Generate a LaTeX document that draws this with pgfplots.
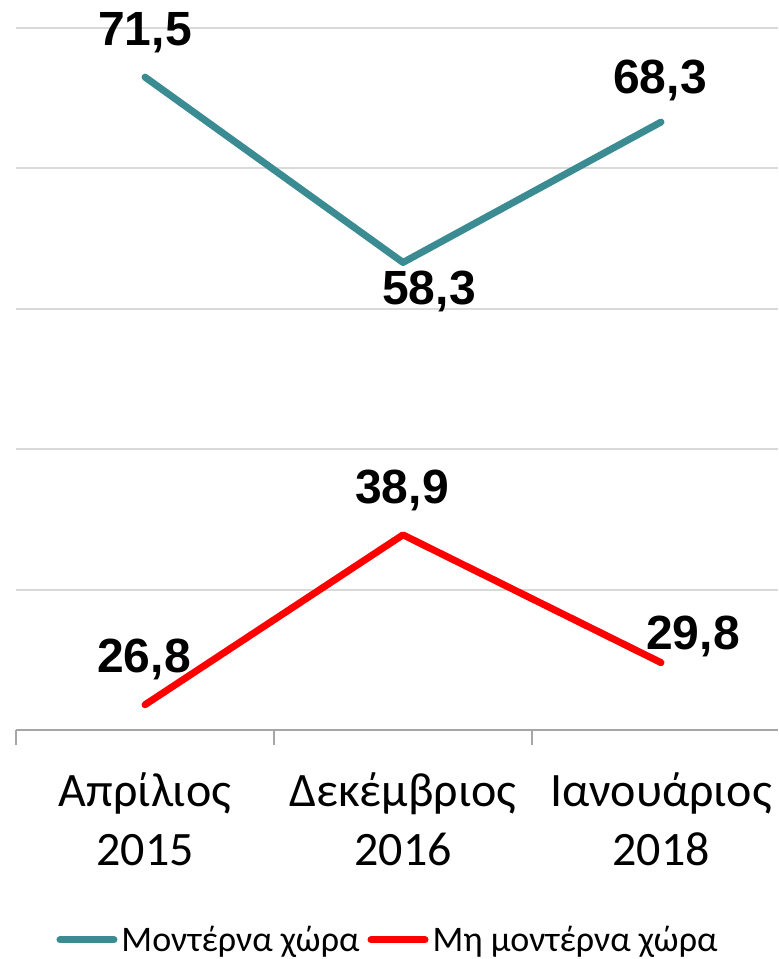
\documentclass[border=0pt]{standalone}
\usepackage{fontspec}
\setmainfont{Carlito}
\newfontfamily\lab{Liberation Sans}
\usepackage{pgfplots}
\pgfplotsset{compat=1.18}
\usepackage{pgfplotstable}
\definecolor{teal1}{RGB}{59,140,146}
\definecolor{grid1}{RGB}{217,217,217}
\definecolor{axis1}{RGB}{166,166,166}

\pgfplotstableread{
x y dx dy lbl
0 71.5 0 22 71,5
1 58.3 13 -14.5 58,3
2 68.3 -0.5 21 68,3
}\modern
\pgfplotstableread{
x y dx dy lbl
0 26.8 -0.5 22.5 26,8
1 38.9 -0.5 22 38,9
2 29.8 16 13 29,8
}\nonmodern

\begin{document}
\begin{tikzpicture}
\begin{axis}[
  scale only axis, width=381pt, height=351pt,
  xmin=-0.5, xmax=2.4535, ymin=25, ymax=75,
  axis x line=bottom, axis y line=left,
  x axis line style={-, draw=axis1, line width=1pt},
  y axis line style={draw=none},
  ytick={25,35,...,75}, yticklabels={},
  ymajorgrids, major grid style={draw=grid1, line width=1pt},
  xtick={0,1,2},
  xticklabels={{Απρίλιος\\2015},{Δεκέμβριος\\2016},{Ιανουάριος\\2018}},
  major tick length=0pt,
  minor xtick={-0.5,0.5,1.5},
  minor x tick style={draw=axis1, line width=1pt},
  minor tick length=7.5pt, tick align=outside,
  xticklabel style={align=center, inner sep=0pt, anchor=north, yshift=-21pt, font=\fontsize{24}{29.5}\selectfont},
  clip=false,
  legend columns=2,
  legend style={at={(0.4895,-0.299)}, anchor=center, draw=none, fill=none,
    font=\fontsize{18}{22}\selectfont, inner sep=0pt,
    nodes={inner sep=2pt},
    /tikz/every even column/.append style={column sep=2pt}},
  legend image code/.code={\draw[#1, line cap=round] (0pt,0pt) -- (27pt,0pt);},
  point meta=explicit symbolic,
  visualization depends on={\thisrow{dx}\as\dx},
  visualization depends on={\thisrow{dy}\as\dy},
  nodes near coords,
  every node near coord/.style={anchor=center, xshift=\dx pt, yshift=\dy pt,
    font=\lab\bfseries\fontsize{24}{24}\selectfont, text=black, inner sep=0pt},
]
\addplot[teal1, line width=3.5pt, line cap=round, line join=round, mark=none]
  table[x=x, y=y, meta=lbl] {\modern};
\addlegendentry{Μοντέρνα χώρα}
\addplot[red, line width=3.5pt, line cap=round, line join=round, mark=none]
  table[x=x, y=y, meta=lbl] {\nonmodern};
\addlegendentry{Μη μοντέρνα χώρα}
\coordinate (bl) at (rel axis cs:-0.021,-0.32621);
\coordinate (tr) at (rel axis cs:1,1.03989);
\end{axis}
\pgfresetboundingbox
\path (bl) rectangle (tr);
\end{tikzpicture}
\end{document}
